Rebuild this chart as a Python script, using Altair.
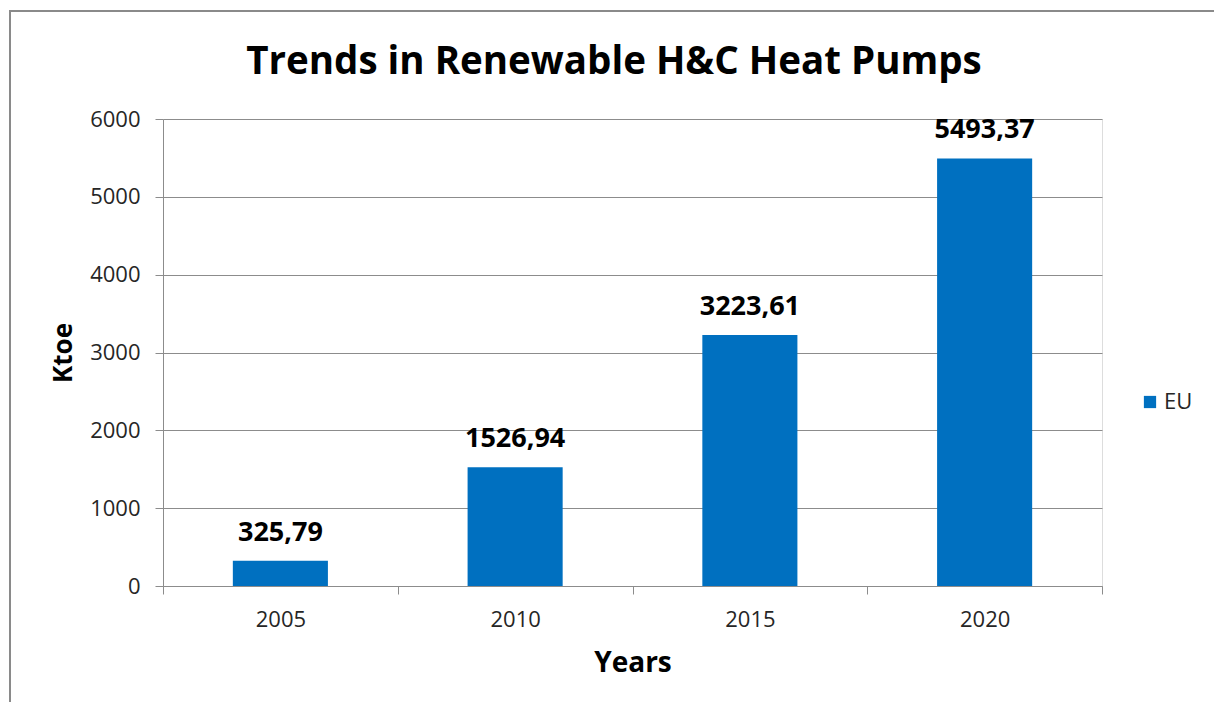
import altair as alt
import pandas as pd

# Chart data
years = ["2005", "2010", "2015", "2020"]
ktoe = [325.79, 1526.94, 3223.61, 5493.37]
series = ["EU", "EU", "EU", "EU"]

labels = [f"{v:.2f}".replace(".", ",") for v in ktoe]
df = pd.DataFrame({"year": years, "ktoe": ktoe, "series": series, "label": labels})

FONT = "Open Sans"
BLUE = "#0070C0"
GRID = "#8c8c8c"
W, H = 939, 467
TITLE = "Trends in Renewable H&C Heat Pumps"

x_enc = alt.X(
    "year:N",
    sort=years,
    scale=alt.Scale(paddingInner=0, paddingOuter=0),
    axis=alt.Axis(
        title="Years",
        titleFont=FONT,
        titleFontSize=28,
        titleFontWeight="bold",
        titleColor="#000000",
        titleBaseline="alphabetic",
        titleY=85,
        labelFont=FONT,
        labelFontSize=22,
        labelColor="#262626",
        labelAngle=0,
        labelPadding=15,
        tickBand="extent",
        tickSize=8,
        tickColor=GRID,
        domainColor=GRID,
        grid=False,
    ),
)

y_enc = alt.Y(
    "ktoe:Q",
    scale=alt.Scale(domain=[0, 6000]),
    axis=alt.Axis(
        title="Ktoe",
        titleFont=FONT,
        titleFontSize=26,
        titleFontWeight="bold",
        titleColor="#000000",
        titleAngle=-90,
        titleAlign="center",
        titleBaseline="middle",
        titleX=-100,
        titleY=H / 2,
        values=[0, 1000, 2000, 3000, 4000, 5000, 6000],
        format="d",
        labelFont=FONT,
        labelFontSize=22,
        labelColor="#262626",
        labelPadding=15,
        tickSize=8,
        tickColor=GRID,
        domainColor=GRID,
        gridColor=GRID,
        gridWidth=1,
    ),
)

bars = alt.Chart(df).mark_bar(
    width=alt.RelativeBandSize(0.405), color=BLUE
).encode(
    x=x_enc,
    y=y_enc,
    color=alt.Color(
        "series:N",
        scale=alt.Scale(range=[BLUE]),
        legend=alt.Legend(
            title=None,
            orient="none",
            legendX=976,
            legendY=272,
            symbolType="square",
            symbolSize=150,
            symbolStrokeWidth=0,
            labelOffset=3,
            labelFont=FONT,
            labelFontSize=22,
            labelColor="#262626",
            padding=0,
        ),
    ),
)

values_text = alt.Chart(df).mark_text(
    font=FONT, fontSize=27, fontWeight="bold", color="#000000",
    baseline="alphabetic", dy=-20,
).encode(x=alt.X("year:N", sort=years), y="ktoe:Q", text="label:N")

# chart title, drawn as a text mark above the plot area
title = alt.Chart(pd.DataFrame({"t": [TITLE]})).mark_text(
    font=FONT, fontSize=38.5, fontWeight="bold", color="#000000",
    align="center", baseline="alphabetic",
).encode(x=alt.value(451), y=alt.value(-45), text="t:N")

# outer frame around the whole figure
frame = alt.Chart(df).mark_rect(
    fill=None, stroke="#8a8a8a", strokeWidth=2, clip=False
).encode(
    x=alt.value(-153), x2=alt.value(1080),
    y=alt.value(-108), y2=alt.value(600),
)

chart = alt.layer(frame, bars, values_text, title).properties(
    width=W,
    height=H,
    autosize=alt.AutoSizeParams(type="none"),
    padding={"left": 163, "top": 119, "right": 112, "bottom": 116},
).configure_view(stroke=None).configure(background="white")

chart.save("out.html", embed_options={"renderer": "svg", "actions": False})
